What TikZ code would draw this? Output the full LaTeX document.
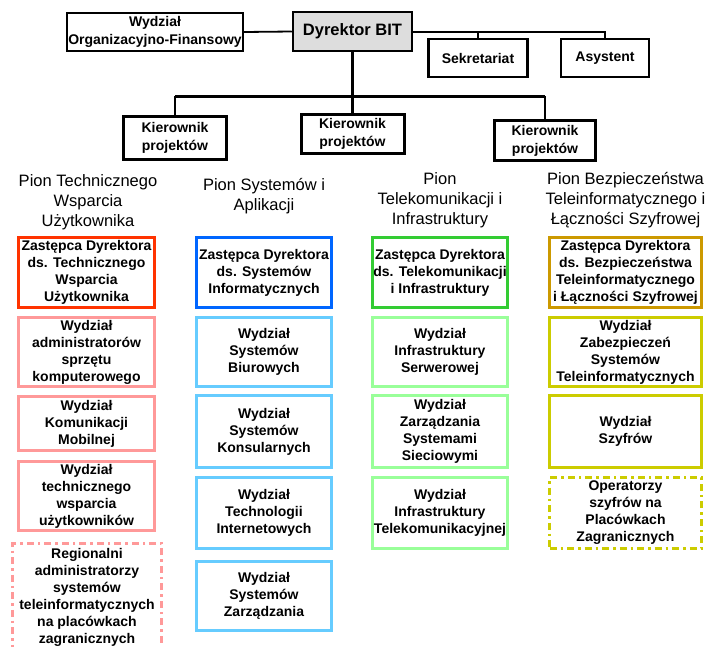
\documentclass[tikz,border=0pt]{standalone}
\usepackage{fontspec}
\setmainfont{Liberation Sans}
\definecolor{cRed}{HTML}{FF3300}
\definecolor{cPink}{HTML}{FF9999}
\definecolor{cBlue}{HTML}{0066FF}
\definecolor{cLBlue}{HTML}{66CCFF}
\definecolor{cGreen}{HTML}{33CC33}
\definecolor{cLGreen}{HTML}{99FF99}
\definecolor{cGold}{HTML}{CC9900}
\definecolor{cYel}{HTML}{CCCC00}
\definecolor{cGray}{HTML}{DDDDDD}
\tikzset{
  topbox/.style={draw=black, rectangle, line width=2.5pt, align=center, inner sep=0pt,
    font=\bfseries\fontsize{14}{18}\selectfont},
  colbox/.style={draw, rectangle, line width=3pt, align=center, inner sep=0pt,
    font=\bfseries\fontsize{14}{17}\selectfont},
  dashdotbox/.style={colbox, dash pattern=on 7pt off 4pt on 2.5pt off 4pt},
  hdr/.style={align=center, inner sep=0pt, font=\fontsize{16.5}{20}\selectfont},
  thinline/.style={line width=1.8pt},
  thickline/.style={line width=3pt},
}
\begin{document}
\begin{tikzpicture}[x=1pt,y=-1pt]
\useasboundingbox (0,0) rectangle (710,646);

% top level
\node[topbox, line width=2pt, minimum width=176, minimum height=38] (wof) at (155,32) {Wydział\\Organizacyjno-Finansowy};
\node[topbox, fill=cGray, minimum width=119, minimum height=39, font=\bfseries\fontsize{16.5}{20}\selectfont] (dyr) at (352.5,31.5) {Dyrektor BIT};
\node[topbox, minimum width=99, minimum height=38] (sek) at (478,58) {Sekretariat};
\node[topbox, minimum width=88, minimum height=38] (asy) at (605,58) {Asystent};
\node[topbox, line width=3pt, minimum width=103, minimum height=43] (k1) at (175,138) {Kierownik\\projektów};
\node[topbox, line width=3pt, minimum width=103, minimum height=39] (k2) at (352.5,134) {Kierownik\\projektów};
\node[topbox, line width=3pt, minimum width=101, minimum height=40] (k3) at (545,140.5) {Kierownik\\projektów};

\coordinate (bus) at (352.5,96);
\draw[thinline] (wof.east) -- (dyr.west);
\draw[line width=2pt] (dyr.east) -| (sek.north);
\draw[line width=2pt] (dyr.east) -| (asy.north);
\draw[thickline] (dyr.south) -- (k2.north);
\draw[thickline] (k1.north |- bus) -- (k3.north |- bus);
\draw[thinline] (k1.north |- bus) -- (k1.north);
\draw[thinline] (k3.north |- bus) -- (k3.north);

% headers
\node[hdr] (h1) at (88,202) {Pion Technicznego\\Wsparcia\\Użytkownika};
\node[hdr] (h2) at (264,196) {Pion Systemów i\\Aplikacji};
\node[hdr] (h3) at (440,200.5) {Pion\\Telekomunikacji i\\Infrastruktury};
\node[hdr] (h4) at (625.5,200.5) {Pion Bezpieczeństwa\\Teleinformatycznego i\\Łączności Szyfrowej};

% column 1
\node[colbox, draw=cRed, minimum width=136, minimum height=70] (a1) at (86.5,272.5) {Zastępca Dyrektora\\ds. Technicznego\\Wsparcia\\Użytkownika};
\node[colbox, draw=cPink, minimum width=136, minimum height=69] (a2) at (86.5,352) {Wydział\\administratorów\\sprzętu\\komputerowego};
\node[colbox, draw=cPink, minimum width=136, minimum height=54] (a3) at (86.5,423.5) {Wydział\\Komunikacji\\Mobilnej};
\node[colbox, draw=cPink, minimum width=136, minimum height=69] (a4) at (86.5,496) {Wydział\\technicznego\\wsparcia\\użytkowników};
\node[dashdotbox, draw=cPink, minimum width=149, minimum height=108] (a5) at (87,597) {Regionalni\\administratorzy\\systemów\\teleinformatycznych\\na placówkach\\zagranicznych};

% column 2
\node[colbox, draw=cBlue, minimum width=135, minimum height=70] (b1) at (264,272.5) {Zastępca Dyrektora\\ds. Systemów\\Informatycznych};
\node[colbox, draw=cLBlue, minimum width=135, minimum height=69] (b2) at (264,352) {Wydział\\Systemów\\Biurowych};
\node[colbox, draw=cLBlue, minimum width=135, minimum height=72] (b3) at (264,431.5) {Wydział\\Systemów\\Konsularnych};
\node[colbox, draw=cLBlue, minimum width=135, minimum height=71] (b4) at (264,513) {Wydział\\Technologii\\Internetowych};
\node[colbox, draw=cLBlue, minimum width=135, minimum height=69] (b5) at (264,596) {Wydział\\Systemów\\Zarządzania};

% column 3
\node[colbox, draw=cGreen, minimum width=135, minimum height=70] (c1) at (440,272.5) {Zastępca Dyrektora\\ds. Telekomunikacji\\i Infrastruktury};
\node[colbox, draw=cLGreen, minimum width=135, minimum height=69] (c2) at (440,352) {Wydział\\Infrastruktury\\Serwerowej};
\node[colbox, draw=cLGreen, minimum width=135, minimum height=72] (c3) at (440,431.5) {Wydział\\Zarządzania\\Systemami\\Sieciowymi};
\node[colbox, draw=cLGreen, minimum width=135, minimum height=71] (c4) at (440,513) {Wydział\\Infrastruktury\\Telekomunikacyjnej};

% column 4
\node[colbox, draw=cGold, minimum width=152, minimum height=70] (d1) at (625.5,272.5) {Zastępca Dyrektora\\ds. Bezpieczeństwa\\Teleinformatycznego\\i Łączności Szyfrowej};
\node[colbox, draw=cYel, minimum width=152, minimum height=69] (d2) at (625.5,352) {Wydział\\Zabezpieczeń\\Systemów\\Teleinformatycznych};
\node[colbox, draw=cYel, minimum width=152, minimum height=72] (d3) at (625.5,431.5) {Wydział\\Szyfrów};
\node[dashdotbox, draw=cYel, minimum width=152, minimum height=71] (d4) at (625.5,513) {Operatorzy\\szyfrów na\\Placówkach\\Zagranicznych};
\end{tikzpicture}
\end{document}
